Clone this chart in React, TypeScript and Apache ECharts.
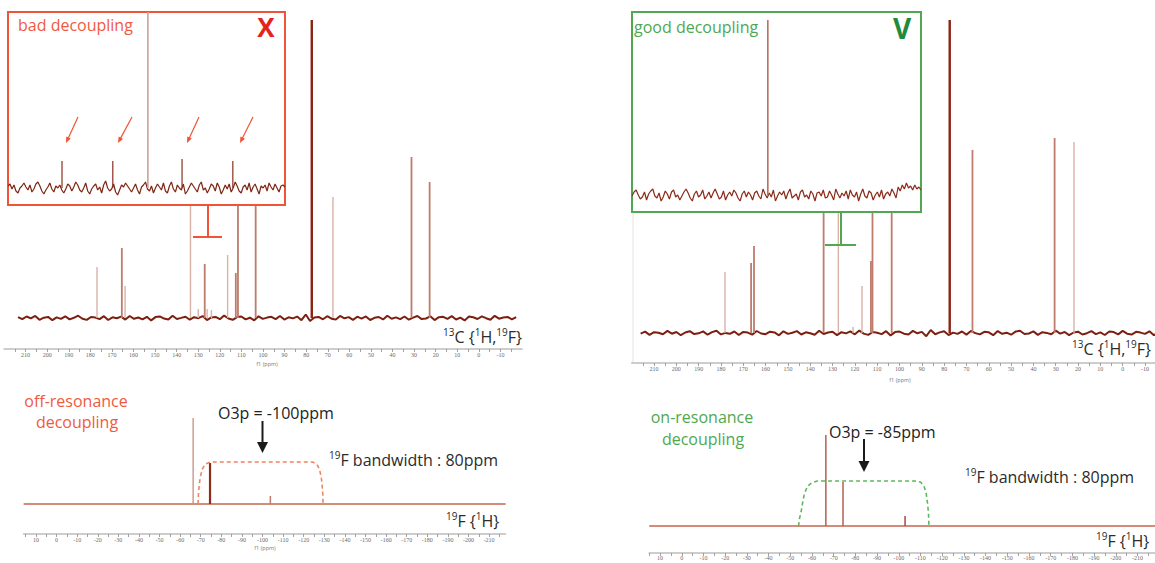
import React, { useEffect, useRef } from "react";
import * as echarts from "echarts";

const FONT = "'Open Sans', 'Noto Sans', sans-serif";
const AXIS_FONT = "'Liberation Serif', 'DejaVu Serif', serif";

// ---------------- tick labels (ppm) ----------------
const carbonTickLabels = [210, 200, 190, 180, 170, 160, 150, 140, 130, 120, 110, 100, 90, 80, 70, 60, 50, 40, 30, 20, 10, 0, -10];
const fluorineTickLabels = [10, 0, -10, -20, -30, -40, -50, -60, -70, -80, -90, -100, -110, -120, -130, -140, -150, -160, -170, -180, -190, -200, -210];

// ---------------- LEFT: 13C{1H,19F}, off-resonance ----------------
const leftCarbonStrongPpm = [77.4];
const leftCarbonStrongHeight = [298];
const leftCarbonMediumPpm = [165.4, 127.0, 112.6, 111.6, 103.4, 31.2, 22.8];
const leftCarbonMediumHeight = [70, 54, 45, 160, 160, 161, 136];
const leftCarbonFaintPpm = [176.9, 163.9, 133.6, 130.0, 125.9, 123.9, 116.4, 67.6];
const leftCarbonFaintHeight = [51, 32, 160, 9, 9, 8, 63, 121];
const leftCarbonNoiseRange = [213.5, -17.3];
const leftCarbonNoise = [
  0.8, -1.2, 1.5, -0.4, 2.1, -1.8, 0.3, 1.1, -2.2, 0.6, -0.9, 1.7, -1.4, 0.2, 2.3, -0.7, -1.9, 1.0, 0.4, -1.1,
  1.8, -2.0, 0.7, -0.3, 1.4, -1.6, 2.0, -0.8, 0.5, -1.3, 1.2, -2.4, 0.9, 1.6, -0.6, -1.5, 2.2, -1.0, 0.1, 1.3,
  -1.7, 0.8, -0.2, 1.9, -2.1, 0.6, 1.1, -1.2, 2.4, -0.5, -1.8, 0.9, 1.5, -1.4, 0.3, -2.3, 1.7, -0.9, 0.4, 1.2,
  -1.1, 2.0, -1.6, 0.7, -0.4, 1.4, -2.2, 3.5, -3.0, 0.5, 1.1, -1.3, 1.8, -0.7, -1.5, 2.1, -0.3, 0.9, -1.9, 1.3,
  -0.6, 1.6, -2.0, 0.2, 1.0, -1.4, 2.3, -0.8, 0.6, -1.2, 1.5, -1.7, 0.4, 2.0, -1.1, -0.5, 1.7, -2.1, 0.8, 1.2,
  -0.9, 1.9, -1.5, 0.3, -2.4, 1.4, 0.7, -1.0, 1.6, -0.2, -1.8, 2.2, -0.7, 0.5, 1.1, -1.3, 0.9,
];

// left inset (zoom on the CF3 quartet region)
const leftInsetRange = [127, 121];
const leftInsetMainPpm = [123.97];
const leftInsetMainHeight = [176];
const leftInsetSatellitePpm = [125.83, 124.73, 123.23, 122.13];
const leftInsetSatelliteHeight = [27, 27, 29, 27];
const leftInsetNoise = [
  2, 4, -1, 3, -3, -5, 0, 2, 5, 1, -2, 3, -4, -1, 4, 6, 2, -3, -6, -2,
  1, 5, -1, -4, 2, 0, 3, -2, -5, -1, 4, 2, -3, 1, 6, 3, -2, -4, 0, 5,
  -3, -6, -1, 2, 4, -2, 1, -5, 3, 7, 0, -3, -1, 4, -4, -7, -2, 3, 1, 5,
  2, -1, -4, 0, 4, -2, -6, 1, 3, 6, -1, -3, 2, -5, 0, 4, 1, -2, 5, -3,
  -5, 2, 6, -1, -4, 3, 0, -2, 4, -6, -3, 1, 5, 2, -1, -4, 3, 6, -2, 0,
  -5, -1, 4, 2, -3, 5, 1, -6, -2, 3, -1, 4, -4, 0, 6, 2, -3, -5, 1, 3,
  -2, 5, -4, 1, 4, -1, -6, 2, 0, 3, -3, 5, 1, -2, 4, 0, -4, 2, 3, 1,
];

// left 19F{1H}
const leftFluorineTallPpm = [-66.3];
const leftFluorineTallHeight = [86];
const leftFluorineStrongPpm = [-74.5];
const leftFluorineStrongHeight = [41];
const leftFluorineSmallPpm = [-103.8];
const leftFluorineSmallHeight = [8];
const leftBandPpm = [-68.7, -68.9, -69.3, -69.9, -70.8, -72.2, -74.8, -124.2, -126.3, -127.6, -128.5, -129.0, -129.3, -129.4];
const leftBandLevel = [0, 10, 20, 28, 35, 40, 42, 42, 40, 35, 27, 17, 8, 0];

// ---------------- RIGHT: 13C{1H,19F}, on-resonance ----------------
const rightCarbonStrongPpm = [77.5];
const rightCarbonStrongHeight = [313];
const rightCarbonMediumPpm = [166.5, 165.2, 134.0, 112.8, 112.1, 103.5, 67.3, 30.5];
const rightCarbonMediumHeight = [70, 87, 170, 72, 170, 170, 183, 195];
const rightCarbonFaintPpm = [178.2, 127.4, 120.8, 116.8, 21.8];
const rightCarbonFaintHeight = [61, 170, 6, 47, 191];
const rightCarbonNoiseRange = [216, -20];
const rightCarbonNoise = [
  -0.6, 1.4, -1.9, 0.8, 0.2, -1.3, 2.1, -0.7, 1.0, -2.2, 0.5, 1.8, -1.1, -0.3, 1.6, -1.7, 0.9, 2.3, -1.4, 0.1,
  -0.8, 1.5, -2.0, 1.1, 0.4, -1.6, 2.0, -0.5, -1.2, 1.3, 0.6, -2.3, 1.7, -0.9, 0.3, 1.9, -1.5, 0.7, -0.2, -1.8,
  2.2, -1.0, 0.5, 1.2, -2.1, 0.8, -0.4, 1.6, -1.3, 2.4, -0.6, -1.9, 1.0, 0.2, -1.1, 1.8, -2.4, 0.9, 1.4, -0.7,
  -1.5, 2.1, -0.3, 1.1, -3.2, 3.0, -1.2, 0.6, 1.7, -2.0, 0.4, -0.9, 1.5, -1.6, 2.0, -0.1, -1.4, 1.2, 0.7, -2.2,
  1.9, -0.8, 0.3, -1.7, 1.4, 2.2, -1.0, -0.5, 1.6, -1.9, 0.8, 0.1, -1.3, 2.3, -0.6, 1.0, -2.1, 0.5, 1.3, -1.5,
  -0.2, 1.8, -1.1, 0.6, -2.0, 1.5, 0.9, -1.4, 2.1, -0.7, -1.6, 1.2, 0.4, -0.9, 1.7, -2.3, 0.8, 1.1, -0.4,
];

// right inset
const rightInsetRange = [127, 121];
const rightInsetMainPpm = [124.18];
const rightInsetMainHeight = [175];
const rightInsetNoise = [
  -1, 3, 5, 0, -4, -2, 3, -5, 1, 4, 6, -1, -3, 2, -6, -2, 4, 1, -4, 3,
  5, -2, 0, -5, -1, 3, 6, 2, -3, -6, 1, 4, -2, 0, 5, -4, -1, 3, -3, 2,
  6, 1, -4, -2, 4, -5, 0, 3, -1, 5, 2, -3, -6, 1, 4, -2, 3, 0, -5, 2,
  4, -1, -4, 6, 1, -3, 2, -2, 5, -6, -1, 3, 0, 4, -4, 2, 6, -3, -1, 1,
  -5, 3, 5, -2, 0, -4, 4, 1, -6, 2, 3, -1, 5, -3, -2, 4, 0, -5, 6, 1,
  -3, 2, -1, 4, -4, 5, 0, -2, 3, -6, 1, 6, -1, -3, 4, 2, -5, 0, 3, -2,
  5, -4, 1, 3, -1, 6, 2, -3, 8, 4, 10, 6, 12, 7, 9, 5, 10, 6, 8, 5,
];

// right 19F{1H}
const rightFluorinePeakPpm = [-66.4, -74.3];
const rightFluorinePeakHeight = [91, 44];
const rightFluorineSmallPpm = [-102.9];
const rightFluorineSmallHeight = [10];
const rightBandPpm = [-53.8, -54.3, -55.0, -55.8, -56.6, -58.0, -59.8, -62.5, -107.5, -110.0, -111.6, -112.6, -113.3, -113.7, -113.9];
const rightBandLevel = [0, 8, 14, 25, 33, 40, 43, 45, 45, 44, 40, 33, 22, 12, 0];

// ---------------- helpers ----------------
const RED = "#ef5436";
const GREEN = "#52a852";

const withMinorTicks = (labels: number[]) => labels.flatMap((v) => [v + 5, v]).concat([labels[labels.length - 1] - 5]);

function sampled(range: number[], values: number[]) {
  const step = (range[0] - range[1]) / (values.length - 1);
  return values.map((v, i) => [range[0] - i * step, v]);
}

function pairs(xs: number[], ys: number[]) {
  return xs.map((x, i) => [x, ys[i]]);
}

function sticks(axis: number, ppm: number[], height: number[], color: string, width: number, z = 2) {
  return {
    type: "custom",
    xAxisIndex: axis,
    yAxisIndex: axis,
    z,
    silent: true,
    data: pairs(ppm, height),
    renderItem: (_p: any, api: any) => {
      const base = api.coord([api.value(0), 0]);
      const top = api.coord([api.value(0), api.value(1)]);
      return {
        type: "line",
        shape: { x1: base[0], y1: base[1], x2: top[0], y2: top[1] },
        style: { stroke: color, lineWidth: width },
      };
    },
  };
}

function trace(axis: number, data: number[][], color: string, width: number, z = 1, dash?: number[]) {
  return {
    type: "line",
    xAxisIndex: axis,
    yAxisIndex: axis,
    data,
    symbol: "none",
    showSymbol: false,
    silent: true,
    z,
    lineStyle: { color, width, type: dash ? dash : "solid" },
  };
}

function ppmAxis(grid: number, min: number, max: number, labels: number[], labelMargin = 3) {
  return {
    type: "value",
    gridIndex: grid,
    min,
    max,
    inverse: true,
    axisLine: { show: true, onZero: false, lineStyle: { color: "#bdbdbd", width: 1.5 } },
    axisTick: { show: true, customValues: withMinorTicks(labels), length: 3, lineStyle: { color: "#8c8c8c", width: 0.8 } },
    axisLabel: { show: true, customValues: labels, fontSize: 6, color: "#6a6a6a", margin: labelMargin, fontFamily: AXIS_FONT },
    splitLine: { show: false },
  };
}

function hiddenAxis(grid: number, range: number[]) {
  return { type: "value", gridIndex: grid, min: range[1], max: range[0], inverse: true, show: false };
}

function yAx(grid: number, min: number, max: number) {
  return { type: "value", gridIndex: grid, min, max, show: false };
}

function txt(x: number, y: number, text: string, color: string, size: number, opts: any = {}) {
  return {
    type: "text",
    x,
    y,
    z: 100,
    style: {
      text,
      fill: color,
      fontSize: size,
      fontFamily: FONT,
      fontWeight: opts.bold ? "bold" : "normal",
      textAlign: opts.align || "left",
      align: opts.align || "left",
      textVerticalAlign: "middle",
      verticalAlign: "middle",
    },
  };
}

function supTxt(x: number, y: number, text: string, color: string, size: number) {
  return {
    type: "text",
    x,
    y,
    z: 100,
    style: {
      text,
      fill: color,
      fontSize: size,
      fontFamily: FONT,
      textAlign: "left",
      align: "left",
      textVerticalAlign: "middle",
      verticalAlign: "middle",
      rich: {
        m: { fontSize: size, fontFamily: FONT, fill: color, lineHeight: size + 4 },
        s: { fontSize: Math.round(size * 0.62), fontFamily: FONT, fill: color, lineHeight: Math.round(size * 0.75), verticalAlign: "top" },
      },
    },
  };
}

function arrow(x1: number, y1: number, x2: number, y2: number, color: string, width: number, head: number, halfW: number) {
  const dx = x2 - x1;
  const dy = y2 - y1;
  const L = Math.hypot(dx, dy);
  const ux = dx / L;
  const uy = dy / L;
  const bx = x2 - ux * head;
  const by = y2 - uy * head;
  return [
    { type: "line", z: 90, shape: { x1, y1, x2: bx + ux, y2: by + uy }, style: { stroke: color, lineWidth: width } },
    {
      type: "polygon",
      z: 90,
      shape: { points: [[x2, y2], [bx - uy * halfW, by + ux * halfW], [bx + uy * halfW, by - ux * halfW]] },
      style: { fill: color },
    },
  ];
}

function buildOption() {
  const grids = [
    { left: 4, top: 20, width: 518, height: 329 },
    { left: 8, top: 12, width: 277, height: 193 },
    { left: 23.6, top: 418, width: 482, height: 116 },
    { left: 631.7, top: 20, width: 535.6, height: 343 },
    { left: 632, top: 12, width: 289, height: 200 },
    { left: 649.2, top: 435, width: 510, height: 118 },
  ].map((g) => ({ ...g, show: false, containLabel: false, outerBoundsMode: "none" }));

  const C13 = "{s|13}{m|C {}{s|1}{m|H,}{s|19}{m|F}}";
  const F19 = "{s|19}{m|F {}{s|1}{m|H}}";
  const BW = "{s|19}{m|F bandwidth : 80ppm}";

  const graphics: any[] = [
    // inset frames (white, cover the main spectrum)
    { type: "rect", z: 50, shape: { x: 8, y: 12, width: 277, height: 193 }, style: { fill: "#fff", stroke: RED, lineWidth: 2 } },
    { type: "rect", z: 50, shape: { x: 632, y: 12, width: 289, height: 200 }, style: { fill: "#fff", stroke: GREEN, lineWidth: 2 } },
    // brackets under the insets
    { type: "line", z: 55, shape: { x1: 208, y1: 205, x2: 208, y2: 237 }, style: { stroke: RED, lineWidth: 2 } },
    { type: "line", z: 55, shape: { x1: 193, y1: 237, x2: 222, y2: 237 }, style: { stroke: RED, lineWidth: 2 } },
    { type: "line", z: 55, shape: { x1: 841, y1: 212, x2: 841, y2: 245 }, style: { stroke: GREEN, lineWidth: 2 } },
    { type: "line", z: 55, shape: { x1: 825, y1: 245, x2: 856, y2: 245 }, style: { stroke: GREEN, lineWidth: 2 } },
    // faint frame of right spectrum
    { type: "line", z: 0, shape: { x1: 633, y1: 213, x2: 633, y2: 363 }, style: { stroke: "#e4e4e4", lineWidth: 1 } },
    // inset annotations
    txt(18, 25, "bad decoupling", "#ef5a3e", 16),
    txt(266, 27, "X", "#e3241b", 26, { bold: true, align: "center" }),
    txt(634, 27, "good decoupling", "#4fa84f", 16),
    txt(902, 28, "V", "#1f8b3b", 28, { bold: true, align: "center" }),
    ...arrow(78, 117, 66, 143, RED, 1.2, 6, 2.5),
    ...arrow(132, 117, 118, 143, RED, 1.2, 6, 2.5),
    ...arrow(199, 117, 187, 143, RED, 1.2, 6, 2.5),
    ...arrow(253, 117, 240, 143, RED, 1.2, 6, 2.5),
    // nucleus labels
    supTxt(443, 337, C13, "#2b2b2b", 16),
    supTxt(1072, 349, C13, "#2b2b2b", 16),
    supTxt(446, 521, F19, "#2b2b2b", 16),
    supTxt(1096, 541, F19, "#2b2b2b", 16),
    // f1 (ppm)
    txt(267, 364, "f1 (ppm)", "#777", 5.5, { align: "center" }),
    txt(900, 380, "f1 (ppm)", "#777", 5.5, { align: "center" }),
    txt(265, 548, "f1 (ppm)", "#777", 5.5, { align: "center" }),
    // 19F annotations
    txt(76, 401, "off-resonance", "#ef5a3e", 16, { align: "center" }),
    txt(77, 422, "decoupling", "#ef5a3e", 16, { align: "center" }),
    txt(702, 417, "on-resonance", "#4fa84f", 16, { align: "center" }),
    txt(703, 439, "decoupling", "#4fa84f", 16, { align: "center" }),
    txt(218, 413, "O3p = -100ppm", "#222", 16),
    txt(829, 432, "O3p = -85ppm", "#222", 16),
    ...arrow(262.5, 421, 262.5, 453, "#1a1a1a", 2, 11, 5.5),
    ...arrow(864, 439, 864, 472, "#1a1a1a", 2, 11, 5.5),
    supTxt(329, 460, BW, "#2b2b2b", 16),
    supTxt(965, 477, BW, "#2b2b2b", 16),
  ];

  const series: any[] = [
    // left 13C
    trace(0, sampled(leftCarbonNoiseRange, leftCarbonNoise), "#7c1f10", 2, 1),
    sticks(0, leftCarbonFaintPpm, leftCarbonFaintHeight, "#d9b2a8", 1.4),
    sticks(0, leftCarbonMediumPpm, leftCarbonMediumHeight, "#bf7b6b", 1.8),
    sticks(0, leftCarbonStrongPpm, leftCarbonStrongHeight, "#8b2313", 2.4),
    // left inset
    trace(1, sampled(leftInsetRange, leftInsetNoise), "#7e2616", 1.2, 60),
    sticks(1, leftInsetMainPpm, leftInsetMainHeight, "#cba298", 1.6, 61),
    sticks(1, leftInsetSatellitePpm, leftInsetSatelliteHeight, "#8a3020", 1.2, 61),
    // left 19F
    trace(2, [[16, 0], [-218, 0]], "#c4644e", 1.5, 1),
    trace(2, pairs(leftBandPpm, leftBandLevel), "#f0845e", 1.6, 3, [4, 3]),
    sticks(2, leftFluorineTallPpm, leftFluorineTallHeight, "#c98f82", 1.3),
    sticks(2, leftFluorineStrongPpm, leftFluorineStrongHeight, "#8f2b19", 2.2),
    sticks(2, leftFluorineSmallPpm, leftFluorineSmallHeight, "#c07a6a", 1.5),
    // right 13C
    trace(3, sampled(rightCarbonNoiseRange, rightCarbonNoise), "#7c1f10", 2, 1),
    sticks(3, rightCarbonFaintPpm, rightCarbonFaintHeight, "#d9b2a8", 1.4),
    sticks(3, rightCarbonMediumPpm, rightCarbonMediumHeight, "#bf7b6b", 1.8),
    sticks(3, rightCarbonStrongPpm, rightCarbonStrongHeight, "#8b2313", 2.4),
    // right inset
    trace(4, sampled(rightInsetRange, rightInsetNoise), "#8a2a1a", 1.2, 60),
    sticks(4, rightInsetMainPpm, rightInsetMainHeight, "#b8705e", 1.6, 61),
    // right 19F
    trace(5, [[15, 0], [-220, 0]], "#d68a7a", 2, 1),
    trace(5, pairs(rightBandPpm, rightBandLevel), "#5cb85c", 1.6, 3, [4, 3]),
    sticks(5, rightFluorinePeakPpm, rightFluorinePeakHeight, "#b4604f", 1.5),
    sticks(5, rightFluorineSmallPpm, rightFluorineSmallHeight, "#a8483a", 1.5),
  ];

  return {
    animation: false,
    backgroundColor: "#ffffff",
    textStyle: { fontFamily: FONT },
    grid: grids,
    xAxis: [
      ppmAxis(0, -20, 220, carbonTickLabels),
      hiddenAxis(1, leftInsetRange),
      ppmAxis(2, -218, 16, fluorineTickLabels),
      ppmAxis(3, -20, 220, carbonTickLabels),
      hiddenAxis(4, rightInsetRange),
      ppmAxis(5, -220, 15, fluorineTickLabels, 2),
    ],
    yAxis: [yAx(0, -31, 298), yAx(1, -17, 176), yAx(2, -30, 86), yAx(3, -30, 313), yAx(4, -17, 183), yAx(5, -27, 91)],
    series,
    graphic: { elements: graphics },
  };
}

export default function App() {
  const ref = useRef<HTMLDivElement>(null);
  useEffect(() => {
    if (!ref.current) return;
    const chart = echarts.init(ref.current, undefined, { renderer: "svg" });
    chart.setOption(buildOption() as any);
    return () => chart.dispose();
  }, []);
  return (
    <div
      ref={ref}
      style={{ position: "fixed", left: 0, top: 0, width: 1155, height: 563, background: "#fff" }}
    />
  );
}
